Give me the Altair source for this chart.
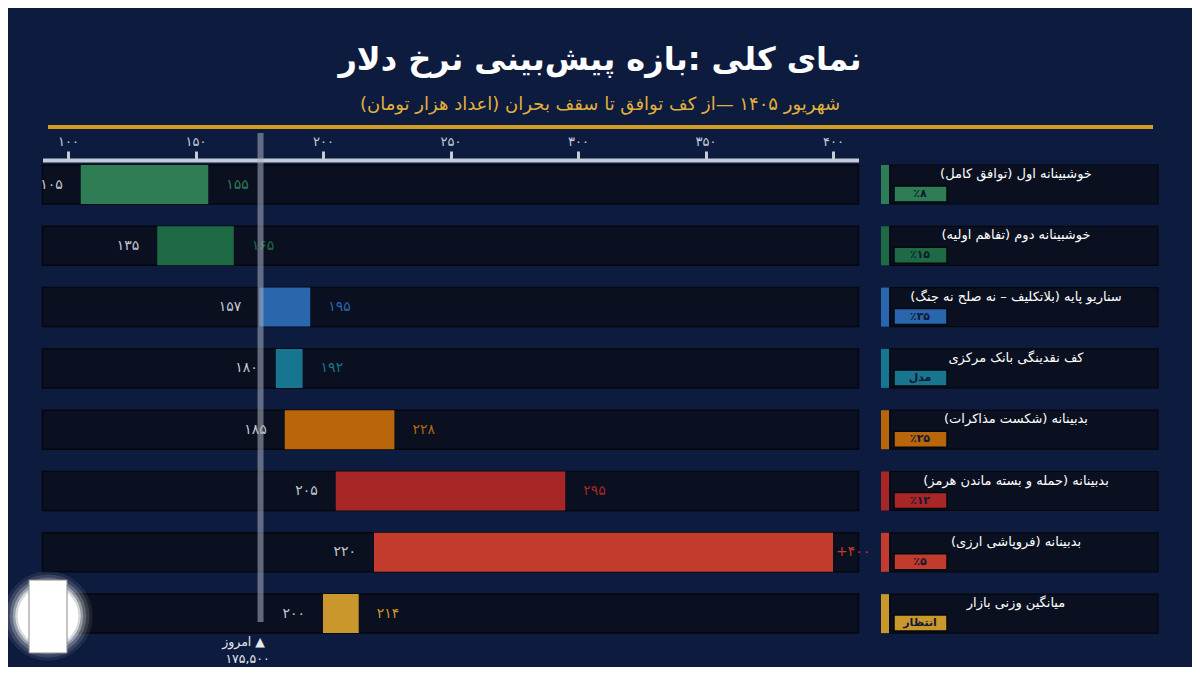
import altair as alt
import pandas as pd

# ---------------- data ----------------
names = [
    "خوشبینانه اول (توافق کامل)",
    "خوشبینانه دوم (تفاهم اولیه)",
    "سناریو پایه (بلاتکلیف – نه صلح نه جنگ)",
    "کف نقدینگی بانک مرکزی",
    "بدبینانه (شکست مذاکرات)",
    "بدبینانه (حمله و بسته ماندن هرمز)",
    "بدبینانه (فروپاشی ارزی)",
    "میانگین وزنی بازار",
]
lows = [105, 135, 157, 180, 185, 205, 220, 200]
highs = [155, 165, 195, 192, 228, 295, 400, 214]
bar_starts = [105, 135, 175, 181.5, 185, 205, 220, 200]
low_labels = ["۱۰۵", "۱۳۵", "۱۵۷", "۱۸۰", "۱۸۵", "۲۰۵", "۲۲۰", "۲۰۰"]
high_labels = ["۱۵۵", "۱۶۵", "۱۹۵", "۱۹۲", "۲۲۸", "۲۹۵", "+۴۰۰", "۲۱۴"]
badges = ["٪۸", "٪۱۵", "٪۳۵", "مدل", "٪۲۵", "٪۱۲", "٪۵", "انتظار"]
colors = ["#2f7d55", "#1d6a45", "#2a66ad", "#177590", "#b8650c", "#a82626", "#c23b2c", "#c9972b"]

tick_values = [100, 150, 200, 250, 300, 350, 400]
tick_labels = ["۱۰۰", "۱۵۰", "۲۰۰", "۲۵۰", "۳۰۰", "۳۵۰", "۴۰۰"]

today_value = 175.5
today_caption = "امروز ▲"
today_text = "۱۷۵,۵۰۰"

title_text = "نمای کلی :بازه پیش‌بینی نرخ دلار"
subtitle_text = "شهریور  ۱۴۰۵ —از کف توافق تا سقف بحران (اعداد هزار تومان)"

F = "DejaVu Sans"
BG = "#0d1b3e"
TRACK = "#0a101f"
EDGE = "#04070e"
AX = "#c3ccd8"

df = pd.DataFrame({
    "name": names, "low": lows, "high": highs, "start": bar_starts,
    "low_label": low_labels, "high_label": high_labels, "badge": badges,
})
one = pd.DataFrame({"today": [today_value], "cap": [today_caption], "val": [today_text],
                    "title": [title_text], "subtitle": [subtitle_text]})

label_expr = "".join(f"datum.value == {v} ? '{l}' : " for v, l in zip(tick_values, tick_labels)) + "''"

xscale = alt.Scale(domain=[90, 410], range=[34.5, 850.5])
yscale = alt.Scale(domain=names, range=[-6.15, 484.25], paddingInner=0.364, paddingOuter=0.182)
xaxis = alt.Axis(orient="top", values=tick_values, labelExpr=label_expr, grid=False, title=None,
                 domainColor=AX, domainWidth=4, tickColor=AX, tickWidth=3, tickSize=9,
                 labelColor=AX, labelFontSize=13, labelFont=F, labelPadding=3,
                 labelFlush=False, labelOverlap=False)


def X(field):
    return alt.X(field, scale=xscale, axis=xaxis, title=None)


Y = alt.Y("name:N", scale=yscale, axis=None)
C = alt.Color("name:N", scale=alt.Scale(domain=names, range=colors), legend=None)

base = alt.Chart(df)

tracks = base.mark_rect(fill=TRACK, stroke=EDGE, strokeWidth=1.5).encode(
    x=alt.XDatum(90, scale=xscale, axis=xaxis), x2=alt.X2Datum(410), y=Y)

bars = base.mark_rect().encode(x=X("start:Q"), x2="high:Q", y=Y, color=C)

low_text = base.mark_text(align="right", baseline="middle", dx=-18, fontSize=14, font=F,
                          color="#c4c9d2").encode(x=X("start:Q"), y=Y, text="low_label:N")

high_text = base.transform_filter("datum.high < 400").mark_text(
    align="left", baseline="middle", dx=18, fontSize=14, font=F).encode(
    x=X("high:Q"), y=Y, text="high_label:N", color=C)

high_text_cap = base.transform_filter("datum.high >= 400").mark_text(
    align="left", baseline="middle", dx=3, fontSize=14, font=F).encode(
    x=X("high:Q"), y=Y, text="high_label:N", color=C)

# right-hand legend panel
stripe = base.mark_rect().encode(x=alt.value(873), x2=alt.value(881), y=Y, color=C)
box = base.mark_rect(fill=TRACK, stroke=EDGE, strokeWidth=1.2).encode(
    x=alt.value(882), x2=alt.value(1150), y=Y)
box_title = base.mark_text(align="center", baseline="middle", dy=-10.5, fontSize=13, font=F,
                           color="#ffffff").encode(x=alt.value(1008), y=Y, text="name:N")
badge = base.mark_bar(height=16, yOffset=9.5, stroke=EDGE, strokeWidth=1.5).encode(
    x=alt.value(886), x2=alt.value(939), y=Y, color=C)
badge_text = base.mark_text(align="center", baseline="middle", dy=9.5, fontSize=11, font=F,
                            fontWeight="bold", color="#101a34").encode(
    x=alt.value(912), y=Y, text="badge:N")

# today marker
ob = alt.Chart(one)
today_rule = ob.mark_rule(strokeWidth=6, color="#a9b0bf", opacity=0.55).encode(
    x=X("today:Q"), y=alt.value(-27), y2=alt.value(462))
today_cap = ob.mark_text(align="center", baseline="middle", dx=-17, fontSize=12.5, font=F,
                         color="#e6e9ef").encode(x=X("today:Q"), y=alt.value(482), text="cap:N")
today_val = ob.mark_text(align="center", baseline="middle", dx=-13, fontSize=12.5, font=F,
                         color="#e6e9ef").encode(x=X("today:Q"), y=alt.value(499), text="val:N")

# header
title = ob.mark_text(align="center", baseline="alphabetic", fontSize=32, fontWeight="bold", font=F,
                     color="#ffffff").encode(x=alt.value(592), y=alt.value(-90), text="title:N")
subtitle = ob.mark_text(align="center", baseline="alphabetic", fontSize=18, font=F,
                        color="#e2b03c").encode(x=alt.value(592), y=alt.value(-50), text="subtitle:N")
gold = ob.mark_rule(strokeWidth=4, color="#d19d27").encode(
    x=alt.value(40), x2=alt.value(1145), y=alt.value(-33))

# logo badge (soft white glow with framed card)
glows = [
    ob.mark_circle(color="#ffffff", opacity=op, size=sz).encode(x=alt.value(40), y=alt.value(456))
    for op, sz in [(0.08, 8000), (0.12, 6900), (0.2, 5900), (0.35, 5000), (0.6, 4300), (1.0, 3700)]
]
logo = ob.mark_rect(fill="#ffffff", stroke="#8a8a8a", strokeWidth=1).encode(
    x=alt.value(21), x2=alt.value(59), y=alt.value(420), y2=alt.value(493))

chart = alt.layer(
    tracks, bars, low_text, high_text, high_text_cap,
    box, stripe, box_title, badge, badge_text,
    today_rule, today_cap, today_val,
    title, subtitle, gold,
    *glows, logo,
).properties(
    width=1184, height=507,
    padding={"left": 0, "right": 0, "top": 152, "bottom": 0},
    autosize=alt.AutoSizeParams(type="none"),
    background=BG,
).configure_view(stroke=None)

chart.save("out.html", embed_options={"renderer": "svg", "actions": False})
